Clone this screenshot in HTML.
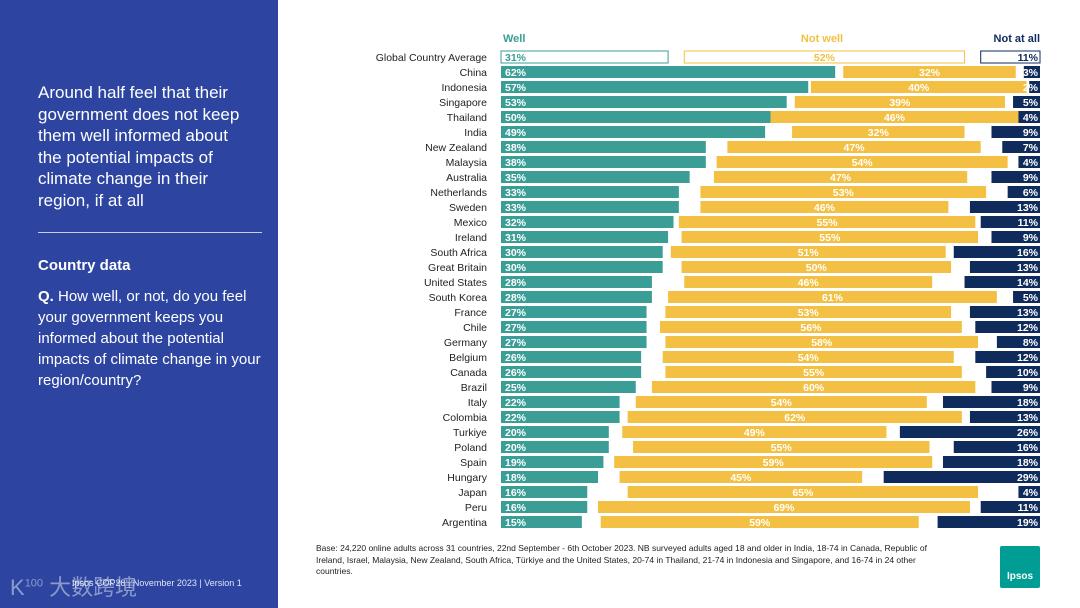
<!DOCTYPE html>
<html><head><meta charset="utf-8">
<style>
body{margin:0;width:1080px;height:608px;overflow:hidden;background:#fff;font-family:"Liberation Sans","Noto Sans CJK SC",sans-serif;position:relative}
#left{position:absolute;left:0;top:0;width:278px;height:608px;background:#2d45a0;color:#fff}
.t{position:absolute;left:38px}
</style></head><body>
<div id="left">
<div class="t" style="top:82px;width:218px;font-size:17px;line-height:21.5px">Around half feel that their government does not keep them well informed about the potential impacts of climate change in their region, if at all</div>
<div style="position:absolute;left:38px;top:232px;width:224px;border-top:1px solid #c8cfe8"></div>
<div class="t" style="top:257px;width:230px;font-size:15px;font-weight:bold">Country data</div>
<div class="t" style="top:286px;width:226px;font-size:15px;line-height:21px"><b>Q.</b> How well, or not, do you feel your government keeps you informed about the potential impacts of climate change in your region/country?</div>
<div style="position:absolute;left:72px;top:578px;font-size:9px;color:#dfe4f5">Ipsos COP28 | November 2023 | Version 1</div>
<div style="position:absolute;left:10px;top:570px;font-size:22px;color:rgba(255,255,255,0.45)">K<sup style="font-size:11px">100</sup> 大数跨境</div>
</div>
<svg id="chart" width="1080" height="608" style="position:absolute;left:0;top:0"></svg>
<div style="position:absolute;left:316px;top:543px;width:615px;font-size:8.5px;line-height:11.5px;color:#222">Base: 24,220 online adults across 31 countries, 22nd September - 6th October 2023. NB surveyed adults aged 18 and older in India, 18-74 in Canada, Republic of Ireland, Israel, Malaysia, New Zealand, South Africa, Türkiye and the United States, 20-74 in Thailand, 21-74 in Indonesia and Singapore, and 16-74 in 24 other countries.</div>
<div style="position:absolute;left:1000px;top:546px;width:40px;height:42px;background:#009d94;color:#fff;font-size:10px;font-weight:bold;text-align:center;line-height:62px;border-radius:2px">Ipsos</div>
<script>
const countries=["Global Country Average","China","Indonesia","Singapore","Thailand","India","New Zealand","Malaysia","Australia","Netherlands","Sweden","Mexico","Ireland","South Africa","Great Britain","United States","South Korea","France","Chile","Germany","Belgium","Canada","Brazil","Italy","Colombia","Turkiye","Poland","Spain","Hungary","Japan","Peru","Argentina"];
const well=[31,62,57,53,50,49,38,38,35,33,33,32,31,30,30,28,28,27,27,27,26,26,25,22,22,20,20,19,18,16,16,15];
const notWell=[52,32,40,39,46,32,47,54,47,53,46,55,55,51,50,46,61,53,56,58,54,55,60,54,62,49,55,59,45,65,69,59];
const notAtAll=[11,3,2,5,4,9,7,4,9,6,13,11,9,16,13,14,5,13,12,8,12,10,9,18,13,26,16,18,29,4,11,19];
const svg=document.getElementById('chart');
const NS='http://www.w3.org/2000/svg';
const x0=501,x1=1040,y0=51,step=15,bh=12;
const xs=v=>x0+(x1-x0)*v/100;
const ys=i=>y0+i*step;
const C=['#3a9e97','#f3c043','#0f2b5b'];
function mk(t,a){const e=document.createElementNS(NS,t);for(const k in a)e.setAttribute(k,a[k]);svg.appendChild(e);return e;}
[["Well",xs(0)+2,'start',C[0]],["Not well",822,'middle',C[1]],["Not at all",1040,'end',C[2]]].forEach((h,k)=>{
 const t=mk('text',{x:h[1],y:42,'text-anchor':h[2],'font-size':11,'font-weight':'bold',fill:h[3]});t.textContent=h[0];
 
 
});
countries.forEach((c,i)=>{
 const y=ys(i),g=i===0;
 const lab=mk('text',{x:487,y:y+10,'text-anchor':'end','font-size':10.5,fill:'#222'});lab.textContent=c;
 
 
 const dk=Math.max(0,100-well[i]-notWell[i]-notAtAll[i])/2;
 const segs=[[0,well[i]],[well[i]+dk,notWell[i]],[100-notAtAll[i],notAtAll[i]]];
 segs.forEach((s,k)=>{
  const r=mk('rect',{x:xs(s[0]),y:y,width:xs(s[1])-x0,height:bh,fill:g?'#fff':C[k],stroke:g?C[k]:'none','stroke-width':1});
  
  
  const tx=k===0?xs(0)+4:(k===1?xs(s[0]+s[1]/2):xs(100)-2);
  const t=mk('text',{x:tx,y:y+10,'text-anchor':k===0?'start':(k===1?'middle':'end'),'font-size':10.5,'font-weight':'bold',fill:g?C[k]:'#fff'});
  t.textContent=s[1]+'%';
  
  
 });
});
</script>
</body></html>
